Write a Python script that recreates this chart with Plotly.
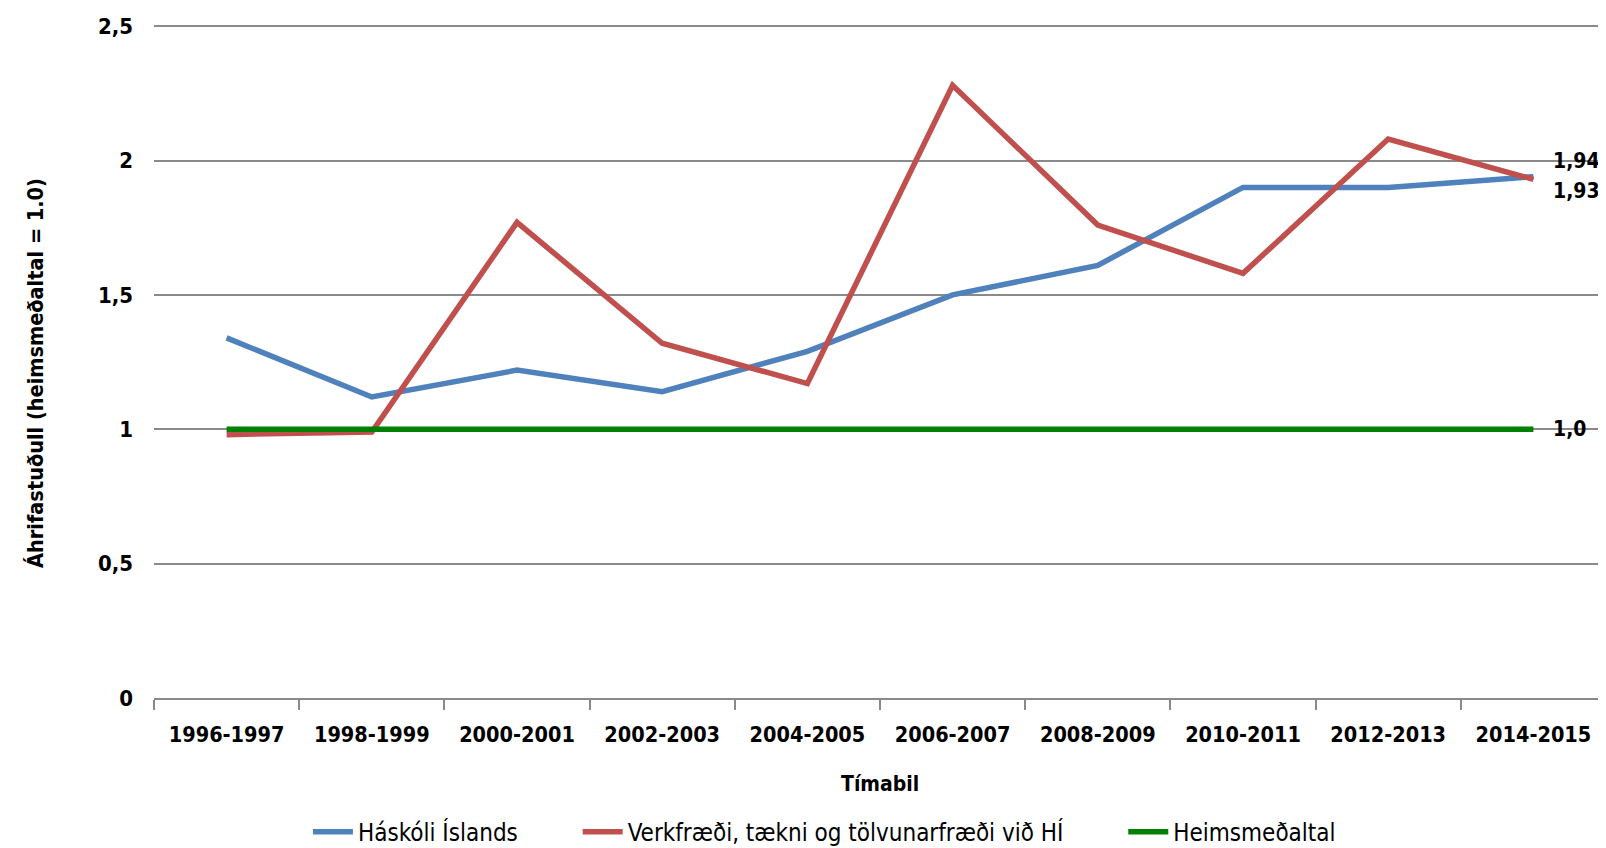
import plotly.graph_objects as go

periods = ["1996-1997", "1998-1999", "2000-2001", "2002-2003", "2004-2005",
           "2006-2007", "2008-2009", "2010-2011", "2012-2013", "2014-2015"]
haskoli = [1.34, 1.12, 1.22, 1.14, 1.29, 1.50, 1.61, 1.90, 1.90, 1.94]
verkfraedi = [0.98, 0.99, 1.77, 1.32, 1.17, 2.28, 1.76, 1.58, 2.08, 1.93]
heimsmedaltal = [1.0] * len(periods)

end_labels = ["1,94", "1,93", "1,0"]

FONT = "DejaVu Sans Condensed, Liberation Sans Narrow, sans-serif"
GRID = "#8a8a8a"
PAD = "\u00a0" * 8  # extra room between legend entries

fig = go.Figure()
fig.add_trace(go.Scatter(x=periods, y=haskoli, mode="lines", name="Háskóli Íslands" + PAD,
                         line=dict(color="#4F81BD", width=5.5)))
fig.add_trace(go.Scatter(x=periods, y=verkfraedi, mode="lines",
                         name="Verkfræði, tækni og tölvunarfræði við HÍ" + PAD,
                         line=dict(color="#C0504D", width=5.5)))
fig.add_trace(go.Scatter(x=periods, y=heimsmedaltal, mode="lines", name="Heimsmeðaltal",
                         line=dict(color="#008000", width=5.5)))

# value labels to the right of the last point
for val, txt, dy in [(haskoli[-1], end_labels[0], 16), (verkfraedi[-1], end_labels[1], -12),
                     (heimsmedaltal[-1], end_labels[2], 0)]:
    fig.add_annotation(x=periods[-1], y=val, text=f"<b>{txt}</b>", showarrow=False,
                       xanchor="left", xshift=18, yshift=dy,
                       font=dict(family=FONT, size=21, color="black"))

# axis titles
fig.add_annotation(text="<b>Tímabil</b>", xref="paper", yref="paper", x=0.5, y=0,
                   yshift=-86, showarrow=False, yanchor="middle",
                   font=dict(family=FONT, size=21, color="black"))
fig.add_annotation(text="<b>Áhrifastuðull (heimsmeðaltal = 1.0)</b>", xref="paper",
                   yref="paper", x=0, y=0.5, xshift=-119, yshift=-12, textangle=-90,
                   showarrow=False, xanchor="center", yanchor="middle",
                   font=dict(family=FONT, size=21.5, color="black"))

# page body has an 8px margin, so the figure is 8px smaller than the window
fig.update_layout(
    width=1598, height=840,
    margin=dict(l=146, r=0, t=16, b=150),
    plot_bgcolor="white", paper_bgcolor="white",
    font=dict(family=FONT, size=21, color="black"),
    showlegend=True,
    legend=dict(orientation="h", x=0.106, xanchor="left", xref="paper",
                y=0.019, yanchor="middle", yref="container",
                font=dict(family=FONT, size=24), itemwidth=40),
    xaxis=dict(
        automargin=False,
        range=[-0.5, 9.5], showgrid=False, showline=True, linecolor=GRID, linewidth=2,
        ticks="outside", tickson="boundaries", ticklen=10, tickcolor=GRID, tickwidth=2,
        ticklabelstandoff=16,
        tickfont=dict(size=21.5), tickprefix="<b>", ticksuffix="</b>",
    ),
    yaxis=dict(
        automargin=False,
        range=[0, 2.508], dtick=0.5, showgrid=True, gridcolor=GRID, gridwidth=2,
        zeroline=False, ticks="", ticklabelstandoff=20,
        tickfont=dict(size=22), tickprefix="<b>", ticksuffix="</b>",
    ),
    separators=", ",
)

fig.write_html("out.html")
